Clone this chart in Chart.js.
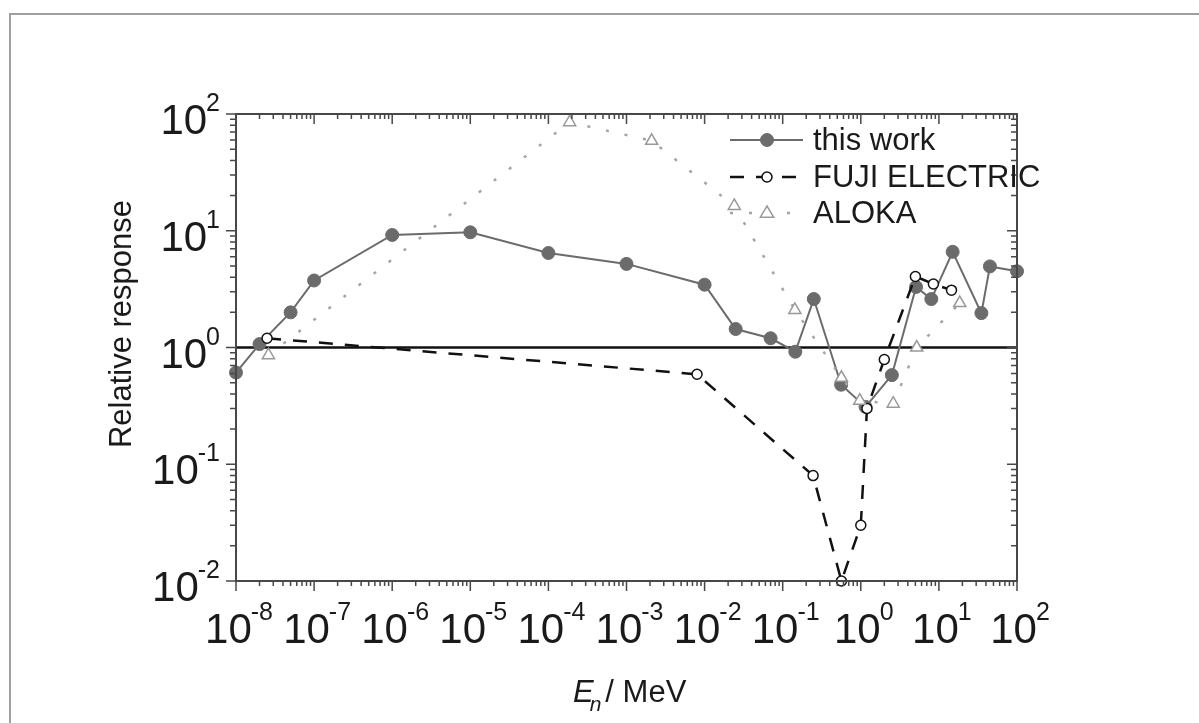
<!DOCTYPE html>
<html lang="en">
<head>
<meta charset="UTF-8">
<title>Relative response</title>
<script src="https://cdn.jsdelivr.net/npm/chart.js"></script>
<style>
  html, body { margin: 0; padding: 0; background: #fff; }
  #wrap { width: 1199px; height: 723px; position: relative; }
</style>
</head>
<body>
<div id="wrap"><canvas id="chart"></canvas></div>
<script>
// values: neutron energy (MeV) and relative response
const thisWorkE = [1e-8, 2e-8, 5e-8, 1e-7, 1e-6, 1e-5, 1e-4, 1e-3, 1e-2, 0.025, 0.07, 0.145, 0.25, 0.56, 1.15, 2.5, 5.1, 8, 15, 35, 45, 100];
const thisWorkR = [0.61, 1.07, 2.0, 3.75, 9.2, 9.7, 6.45, 5.2, 3.45, 1.44, 1.2, 0.92, 2.6, 0.48, 0.31, 0.58, 3.3, 2.6, 6.6, 1.97, 4.95, 4.5];

const fujiE = [2.5e-8, 8e-3, 0.245, 0.565, 1.0, 1.2, 2.0, 5.0, 8.5, 14.5];
const fujiR = [1.2, 0.59, 0.08, 0.01, 0.03, 0.3, 0.79, 4.06, 3.5, 3.1];

const alokaE = [2.6e-8, 1.87e-4, 2.1e-3, 0.024, 0.143, 0.565, 0.97, 2.6, 5.2, 18.5];
const alokaR = [0.86, 85, 59, 16.3, 2.1, 0.55, 0.35, 0.33, 1.0, 2.4];

// unity line
const refE = [1e-8, 1e2];
const refR = [1, 1];

const xTickExps = [-8, -7, -6, -5, -4, -3, -2, -1, 0, 1, 2];
const yTickExps = [-2, -1, 0, 1, 2];
const seriesNames = ['this work', 'FUJI ELECTRIC', 'ALOKA'];

const FONT = '"Liberation Sans", Arial, sans-serif';

function pts(xs, ys) {
    return xs.map((x, i) => ({ x: x, y: ys[i] }));
}

// "10" with a raised exponent
function powLabel(ctx, exp, x, base, align) {
    ctx.font = '42px ' + FONT;
    const wb = ctx.measureText('10').width;
    ctx.font = '25px ' + FONT;
    const es = String(exp);
    const we = ctx.measureText(es).width;
    const total = wb + we - 1;
    const x0 = align === 'center' ? x - total / 2 : x - total;
    ctx.textAlign = 'left';
    ctx.textBaseline = 'alphabetic';
    ctx.font = '42px ' + FONT;
    ctx.fillText('10', x0, base);
    ctx.font = '25px ' + FONT;
    ctx.fillText(es, x0 + wb - 1, base - 23);
}

const decor = {
    id: 'decor',
    beforeDraw(chart) {
        const ctx = chart.ctx;
        ctx.save();
        ctx.strokeStyle = '#9da1a6';
        ctx.lineWidth = 2;
        ctx.beginPath();
        ctx.moveTo(10, 723);
        ctx.lineTo(10, 14);
        ctx.lineTo(1199, 14);
        ctx.stroke();
        ctx.restore();
    },
    afterDraw(chart) {
        const ctx = chart.ctx;
        const a = chart.chartArea;
        const xs = chart.scales.x, ys = chart.scales.y;
        ctx.save();

        // frame
        ctx.strokeStyle = '#484848';
        ctx.lineWidth = 2;
        ctx.strokeRect(a.left, a.top, a.right - a.left, a.bottom - a.top);

        // ticks, major + minor
        ctx.lineWidth = 1.5;
        ctx.beginPath();
        for (let e = -8; e <= 2; e++) {
            for (let k = 1; k <= 9; k++) {
                const v = k * Math.pow(10, e);
                if (v > 100.0001) break;
                const px = xs.getPixelForValue(v);
                const len = k === 1 ? 10 : 5;
                ctx.moveTo(px, a.bottom); ctx.lineTo(px, a.bottom + len);
                ctx.moveTo(px, a.top); ctx.lineTo(px, a.top + len);
            }
        }
        for (let e = -2; e <= 2; e++) {
            for (let k = 1; k <= 9; k++) {
                const v = k * Math.pow(10, e);
                if (v > 100.0001) break;
                const py = ys.getPixelForValue(v);
                const len = k === 1 ? 10 : 6;
                ctx.moveTo(a.left, py); ctx.lineTo(a.left - len, py);
                ctx.moveTo(a.right, py); ctx.lineTo(a.right - len, py);
            }
        }
        ctx.stroke();

        // tick labels
        ctx.fillStyle = '#1a1a1a';
        xTickExps.forEach(e => {
            powLabel(ctx, e, xs.getPixelForValue(Math.pow(10, e)) + 3, a.bottom + 62, 'center');
        });
        yTickExps.forEach(e => {
            powLabel(ctx, e, a.left - 16, ys.getPixelForValue(Math.pow(10, e)) + 20, 'right');
        });

        // axis titles
        ctx.save();
        ctx.translate(122, 324);
        ctx.rotate(-Math.PI / 2);
        ctx.font = '31px ' + FONT;
        ctx.textAlign = 'center';
        ctx.textBaseline = 'middle';
        ctx.fillText('Relative response', 0, 0);
        ctx.restore();

        ctx.textAlign = 'left';
        ctx.textBaseline = 'alphabetic';
        let tx = 573;
        ctx.font = 'italic 31px ' + FONT;
        ctx.fillText('E', tx, 702);
        tx += ctx.measureText('E').width - 4;
        ctx.font = 'italic 21px ' + FONT;
        ctx.fillText('n', tx, 711);
        tx += ctx.measureText('n').width + 4;
        ctx.font = '31px ' + FONT;
        ctx.fillText('/ MeV', tx, 702);

        // legend
        const rows = [140, 177, 213];
        chart.data.datasets.slice(0, 3).forEach((ds, i) => {
            const y = rows[i];
            ctx.save();
            ctx.strokeStyle = ds.borderColor;
            ctx.lineWidth = ds.borderWidth;
            ctx.setLineDash(ds.borderDash || []);
            ctx.beginPath();
            ctx.moveTo(730, y);
            ctx.lineTo(803, y);
            ctx.stroke();
            ctx.setLineDash([]);
            ctx.fillStyle = ds.pointBackgroundColor;
            ctx.strokeStyle = ds.pointBorderColor;
            ctx.lineWidth = ds.pointBorderWidth;
            const r = ds.pointRadius;
            ctx.beginPath();
            if (ds.pointStyle === 'triangle') {
                ctx.moveTo(767, y - r);
                ctx.lineTo(767 + r * 0.95, y + r * 0.6);
                ctx.lineTo(767 - r * 0.95, y + r * 0.6);
                ctx.closePath();
            } else {
                ctx.arc(767, y, r, 0, Math.PI * 2);
            }
            ctx.fill();
            ctx.stroke();
            ctx.restore();
            ctx.fillStyle = '#1a1a1a';
            ctx.font = '31px ' + FONT;
            ctx.textBaseline = 'middle';
            ctx.fillText(seriesNames[i], 813, y + 1);
        });

        ctx.restore();
    }
};

new Chart(document.getElementById('chart'), {
    type: 'line',
    data: {
        datasets: [
            {
                label: seriesNames[0],
                data: pts(thisWorkE, thisWorkR),
                borderColor: '#6b6b6b',
                borderWidth: 2,
                pointStyle: 'circle',
                pointRadius: 6.5,
                pointBackgroundColor: '#6b6b6b',
                pointBorderColor: '#6b6b6b',
                pointBorderWidth: 1,
                order: 2
            },
            {
                label: seriesNames[1],
                data: pts(fujiE, fujiR),
                borderColor: '#111111',
                borderWidth: 2.5,
                borderDash: [14, 12],
                pointStyle: 'circle',
                pointRadius: 5,
                pointBackgroundColor: '#ffffff',
                pointBorderColor: '#111111',
                pointBorderWidth: 1.5,
                order: 1
            },
            {
                label: seriesNames[2],
                data: pts(alokaE, alokaR),
                borderColor: '#a5a5a5',
                borderWidth: 2.5,
                borderDash: [3, 16],
                pointStyle: 'triangle',
                pointRadius: 7,
                pointBackgroundColor: '#ffffff',
                pointBorderColor: '#999999',
                pointBorderWidth: 1.5,
                order: 0
            },
            {
                label: 'unity',
                data: pts(refE, refR),
                borderColor: '#111111',
                borderWidth: 2.5,
                pointRadius: 0,
                order: 3
            }
        ]
    },
    options: {
        responsive: true,
        maintainAspectRatio: false,
        animation: false,
        clip: false,
        layout: { padding: { left: 236, right: 182, top: 114, bottom: 142 } },
        elements: { line: { tension: 0, fill: false } },
        plugins: { legend: { display: false }, tooltip: { enabled: false } },
        scales: {
            x: { type: 'logarithmic', min: 1e-8, max: 1e2, display: false },
            y: { type: 'logarithmic', min: 1e-2, max: 1e2, display: false }
        }
    },
    plugins: [decor]
});
</script>
</body>
</html>
